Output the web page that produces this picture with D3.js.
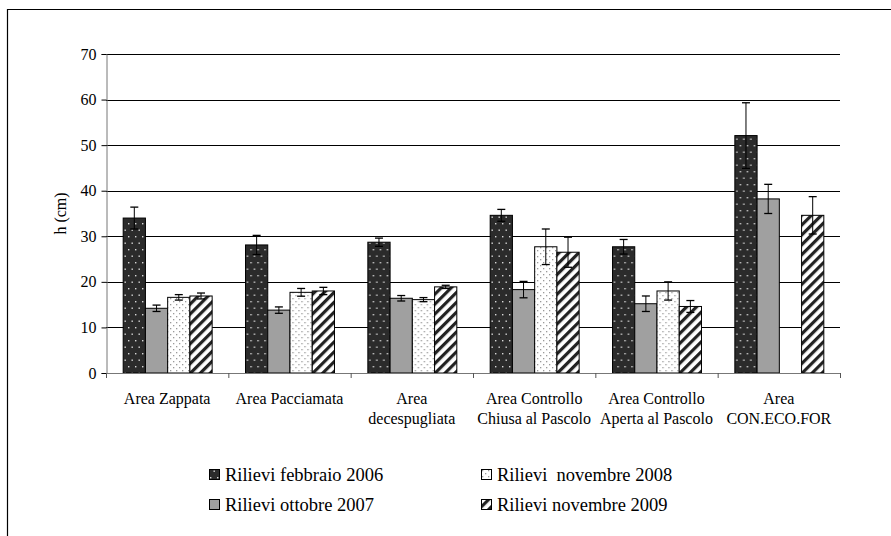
<!DOCTYPE html>
<html>
<head>
<meta charset="utf-8">
<script src="https://cdn.jsdelivr.net/npm/d3@7"></script>
<style>
  body { margin: 0; background: #fff; }
</style>
</head>
<body>
<div id="chart"></div>
<script>
// Categories (areas) and series (surveys)
const categories = [
    ["Area Zappata"],
    ["Area Pacciamata"],
    ["Area", "decespugliata"],
    ["Area Controllo", "Chiusa al Pascolo"],
    ["Area Controllo", "Aperta al Pascolo"],
    ["Area", "CON.ECO.FOR"]
];
const seriesNames = ["Rilievi febbraio 2006", "Rilievi ottobre 2007", "Rilievi\u00a0 novembre 2008", "Rilievi novembre 2009"];

// Mean heights (cm) per series, one value per category (null = missing)
const feb2006 = [34.0, 28.1, 28.7, 34.6, 27.7, 52.1];
const ott2007 = [14.2, 13.8, 16.4, 18.3, 15.2, 38.2];
const nov2008 = [16.6, 17.7, 16.1, 27.7, 18.0, null];
const nov2009 = [16.9, 18.0, 18.9, 26.5, 14.6, 34.6];

// Error bar half-widths
const errFeb2006 = [2.4, 2.1, 0.9, 1.3, 1.6, 7.2];
const errOtt2007 = [0.7, 0.7, 0.6, 1.8, 1.7, 3.2];
const errNov2008 = [0.6, 0.85, 0.45, 3.9, 2.0, null];
const errNov2009 = [0.65, 0.8, 0.35, 3.3, 1.3, 4.1];

const yTicks = [0, 10, 20, 30, 40, 50, 60, 70];

const seriesValues = [feb2006, ott2007, nov2008, nov2009];
const seriesErrors = [errFeb2006, errOtt2007, errNov2008, errNov2009];

const FONT = "Liberation Serif";
const width = 891, height = 536;
const margin = { left: 106, right: 51, top: 54, bottom: 163 };

const svg = d3.select("#chart").append("svg")
    .attr("width", width)
    .attr("height", height)
    .attr("font-family", FONT);

// Patterns
const defs = svg.append("defs");

const pDark = defs.append("pattern").attr("id", "pDark")
    .attr("patternUnits", "userSpaceOnUse").attr("width", 7).attr("height", 13);
pDark.append("rect").attr("width", 7).attr("height", 13).attr("fill", "#2b2b2b");
pDark.append("rect").attr("x", 1).attr("y", 2).attr("width", 1.4).attr("height", 1.4).attr("fill", "#d8d8d8");
pDark.append("rect").attr("x", 4.5).attr("y", 8.5).attr("width", 1.4).attr("height", 1.4).attr("fill", "#d8d8d8");

const pDots = defs.append("pattern").attr("id", "pDots")
    .attr("patternUnits", "userSpaceOnUse").attr("width", 6).attr("height", 6);
pDots.append("rect").attr("width", 6).attr("height", 6).attr("fill", "#fff");
pDots.append("rect").attr("x", 1).attr("y", 1).attr("width", 1.3).attr("height", 1.3).attr("fill", "#9a9a9a");
pDots.append("rect").attr("x", 4).attr("y", 4).attr("width", 1.3).attr("height", 1.3).attr("fill", "#9a9a9a");

const pHatch = defs.append("pattern").attr("id", "pHatch")
    .attr("patternUnits", "userSpaceOnUse").attr("width", 7).attr("height", 7)
    .attr("patternTransform", "rotate(45)");
pHatch.append("rect").attr("width", 7).attr("height", 7).attr("fill", "#fff");
pHatch.append("rect").attr("width", 3.2).attr("height", 7).attr("fill", "#222");

const fills = ["url(#pDark)", "#a0a0a0", "url(#pDots)", "url(#pHatch)"];

// Outer frame (only left and top edges visible)
svg.append("path")
    .attr("d", `M7.5,${height + 2} V9.5 H${width + 2}`)
    .attr("fill", "none").attr("stroke", "#000").attr("stroke-width", 1.2);

// Scales
const x0 = d3.scaleBand()
    .domain(d3.range(categories.length))
    .range([margin.left, width - margin.right])
    .paddingInner(0).paddingOuter(0);

const x1 = d3.scaleBand()
    .domain(d3.range(seriesNames.length))
    .range([0, x0.bandwidth()])
    .paddingOuter(0.75).paddingInner(0);

const y = d3.scaleLinear()
    .domain([0, 70])
    .range([height - margin.bottom, margin.top]);

// Gridlines
svg.append("g").selectAll("line")
    .data(yTicks.filter(d => d > 0))
    .join("line")
    .attr("x1", margin.left).attr("x2", width - margin.right)
    .attr("y1", d => Math.round(y(d)) + 0.5).attr("y2", d => Math.round(y(d)) + 0.5)
    .attr("stroke", "#000").attr("stroke-width", 1.1);

// Y axis
const yAxis = svg.append("g")
    .attr("transform", `translate(${margin.left + 0.5},0)`)
    .call(d3.axisLeft(y).tickValues(yTicks).tickSize(5).tickPadding(5));
yAxis.attr("font-family", FONT).attr("font-size", 16);
yAxis.select(".domain").attr("stroke", "#777");
yAxis.selectAll(".tick line").attr("stroke", "#000");

svg.append("text")
    .attr("transform", `translate(66,${y(35)}) rotate(-90)`)
    .attr("text-anchor", "middle")
    .attr("font-family", FONT)
    .attr("font-size", 16)
    .text("h (cm)");

// Bars
const groups = svg.append("g").selectAll("g")
    .data(categories)
    .join("g")
    .attr("transform", (d, i) => `translate(${x0(i)},0)`);

groups.each(function (cat, ci) {
    const g = d3.select(this);
    seriesValues.forEach((vals, si) => {
        const v = vals[ci];
        if (v == null) return;
        g.append("rect")
            .attr("x", x1(si) + 0.5)
            .attr("y", y(v))
            .attr("width", x1.bandwidth())
            .attr("height", y(0) - y(v))
            .attr("fill", fills[si])
            .attr("stroke", "#000")
            .attr("stroke-width", 1);
    });
    seriesValues.forEach((vals, si) => {
        const v = vals[ci];
        const e = seriesErrors[si][ci];
        if (v == null || e == null) return;
        const cx = x1(si) + x1.bandwidth() / 2 + 0.5;
        g.append("line")
            .attr("x1", cx).attr("x2", cx)
            .attr("y1", y(v + e)).attr("y2", y(v - e))
            .attr("stroke", "#000").attr("stroke-width", 1);
        [v + e, v - e].forEach(t => {
            g.append("line")
                .attr("x1", cx - 4).attr("x2", cx + 4)
                .attr("y1", y(t)).attr("y2", y(t))
                .attr("stroke", "#000").attr("stroke-width", 1.3);
        });
    });
});

// X axis (category boundaries)
const xAxisG = svg.append("g");
xAxisG.append("line")
    .attr("x1", margin.left).attr("x2", width - margin.right)
    .attr("y1", y(0) + 0.5).attr("y2", y(0) + 0.5)
    .attr("stroke", "#777").attr("stroke-width", 1.2);
xAxisG.selectAll(".btick")
    .data(d3.range(categories.length + 1))
    .join("line")
    .attr("class", "btick")
    .attr("x1", i => margin.left + i * x0.bandwidth() + 0.5)
    .attr("x2", i => margin.left + i * x0.bandwidth() + 0.5)
    .attr("y1", y(0)).attr("y2", y(0) + 5)
    .attr("stroke", "#555");

// Category labels
xAxisG.selectAll(".clabel")
    .data(categories)
    .join("text")
    .attr("class", "clabel")
    .attr("text-anchor", "middle")
    .attr("font-family", FONT)
    .attr("font-size", 16)
    .each(function (lines, i) {
        const t = d3.select(this);
        lines.forEach((ln, li) => {
            t.append("tspan")
                .attr("x", x0(i) + x0.bandwidth() / 2)
                .attr("y", 404 + li * 20)
                .text(ln);
        });
    });

// Legend
const legendPos = [[209, 475], [209, 505], [481, 475], [481, 505]];
const legend = svg.append("g").selectAll("g")
    .data(seriesNames)
    .join("g")
    .attr("transform", (d, i) => `translate(${legendPos[i][0]},${legendPos[i][1]})`);

legend.append("rect")
    .attr("x", 0.5).attr("y", -5.5)
    .attr("width", 10).attr("height", 10)
    .attr("fill", (d, i) => fills[i])
    .attr("stroke", "#000");

legend.append("text")
    .attr("x", 16).attr("y", 6)
    .attr("font-family", FONT)
    .attr("font-size", 18.5)
    .text(d => d);
</script>
</body>
</html>
